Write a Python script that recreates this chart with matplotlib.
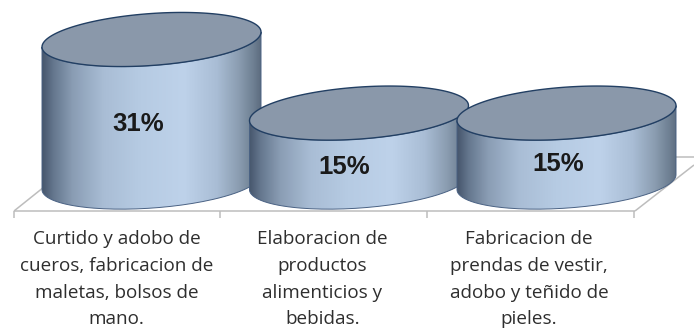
import numpy as np
import matplotlib
matplotlib.use("Agg")
import matplotlib.pyplot as plt
from matplotlib.path import Path
from matplotlib.patches import PathPatch
from matplotlib.colors import LinearSegmentedColormap

categories = ["Curtido y adobo de\ncueros, fabricacion de\nmaletas, bolsos de\nmano.",
              "Elaboracion de\nproductos\nalimenticios y\nbebidas.",
              "Fabricacion de\nprendas de vestir,\nadobo y teñido de\npieles."]
values = [31, 15, 15]
value_labels = ["31%", "15%", "15%"]

W, H = 694, 328
fig = plt.figure(figsize=(W/100, H/100), dpi=100, facecolor="white")
ax = fig.add_axes([0, 0, 1, 1])
ax.axis("off")
XS, X0 = 207.5, 151.5
YS, Y0 = 4.6, 182.1
xlim = (-X0/XS, (W-X0)/XS)
ylim = ((Y0-H)/YS, Y0/YS)

def px(x, y):
    return (x-X0)/XS, (Y0-y)/YS

grid = "#bdbdbd"
def seg(x1, y1, x2, y2):
    a, b = px(x1, y1), px(x2, y2)
    ax.plot([a[0], b[0]], [a[1], b[1]], color=grid, lw=1.1, solid_capstyle="butt", zorder=1)

seg(14, 211, 635, 211)
seg(14, 211, 44, 187)
seg(635, 211, 694, 165)
seg(676, 157, 694, 157)
for xt in (14, 220.5, 427, 634.5):
    seg(xt, 211, xt, 218)

cmap = LinearSegmentedColormap.from_list("cyl", [
    (0.0, "#46566c"), (0.05, "#64768d"), (0.14, "#8a9db4"), (0.28, "#a9bdd5"),
    (0.45, "#b6cbe3"), (0.65, "#bed2ea"), (0.80, "#a9bdd5"), (0.90, "#8b9db1"),
    (0.97, "#6d7e91"), (1.0, "#5d6d80")])
grad = np.linspace(0, 1, 256).reshape(1, -1)

half_w = 109.5/XS
half_h = 26/YS
shear = 7.5/YS
t = np.linspace(0, 2*np.pi, 181)
edge = "#223f63"

for i, v in enumerate(values):
    ex = i + half_w*np.cos(t)
    ey = v + half_h*np.sin(t) + shear*np.cos(t)
    low = t[(t >= np.pi) & (t <= 2*np.pi)]
    bx = i + half_w*np.cos(low)
    by = half_h*np.sin(low) + shear*np.cos(low)
    body_top_x = i + half_w*np.cos(low[::-1])
    body_top_y = v + half_h*np.sin(low[::-1]) + shear*np.cos(low[::-1])
    verts = np.column_stack([np.r_[bx, body_top_x], np.r_[by, body_top_y]])
    verts = np.vstack([verts, verts[0]])
    body = PathPatch(Path(verts), facecolor="none", edgecolor="#4a6284", lw=0.7, zorder=3+i*3)
    ax.add_patch(body)
    im = ax.imshow(grad, cmap=cmap, aspect="auto", interpolation="bilinear",
                   extent=(i-half_w, i+half_w, -half_h*1.5, v+half_h), zorder=2+i*3)
    clip = PathPatch(Path(verts), transform=ax.transData, facecolor="none", edgecolor="none")
    ax.add_patch(clip)
    im.set_clip_path(clip)
    ax.fill(ex, ey, facecolor="#8a98aa", edgecolor=edge, lw=1.0, zorder=4+i*3)

label_xy = [(138, 124), (344, 167), (558, 164)]
for (x, y), s in zip(label_xy, value_labels):
    a, b = px(x, y)
    ax.text(a, b, s, family="Liberation Sans", fontweight="bold", fontsize=18.5,
            color="#1a1a1a", ha="center", va="center", zorder=20)

cat_x = [116.5, 322.5, 529]
for x, c in zip(cat_x, categories):
    for j, line in enumerate(c.split("\n")):
        a, b = px(x, 239.5 + j*26.6)
        ax.text(a, b, line, family="Open Sans", fontsize=13.6, color="#2e2e2e",
                ha="center", va="center", zorder=20)

ax.set_xlim(*xlim)
ax.set_ylim(*ylim)
fig.savefig("out.png", dpi=100, facecolor="white")
